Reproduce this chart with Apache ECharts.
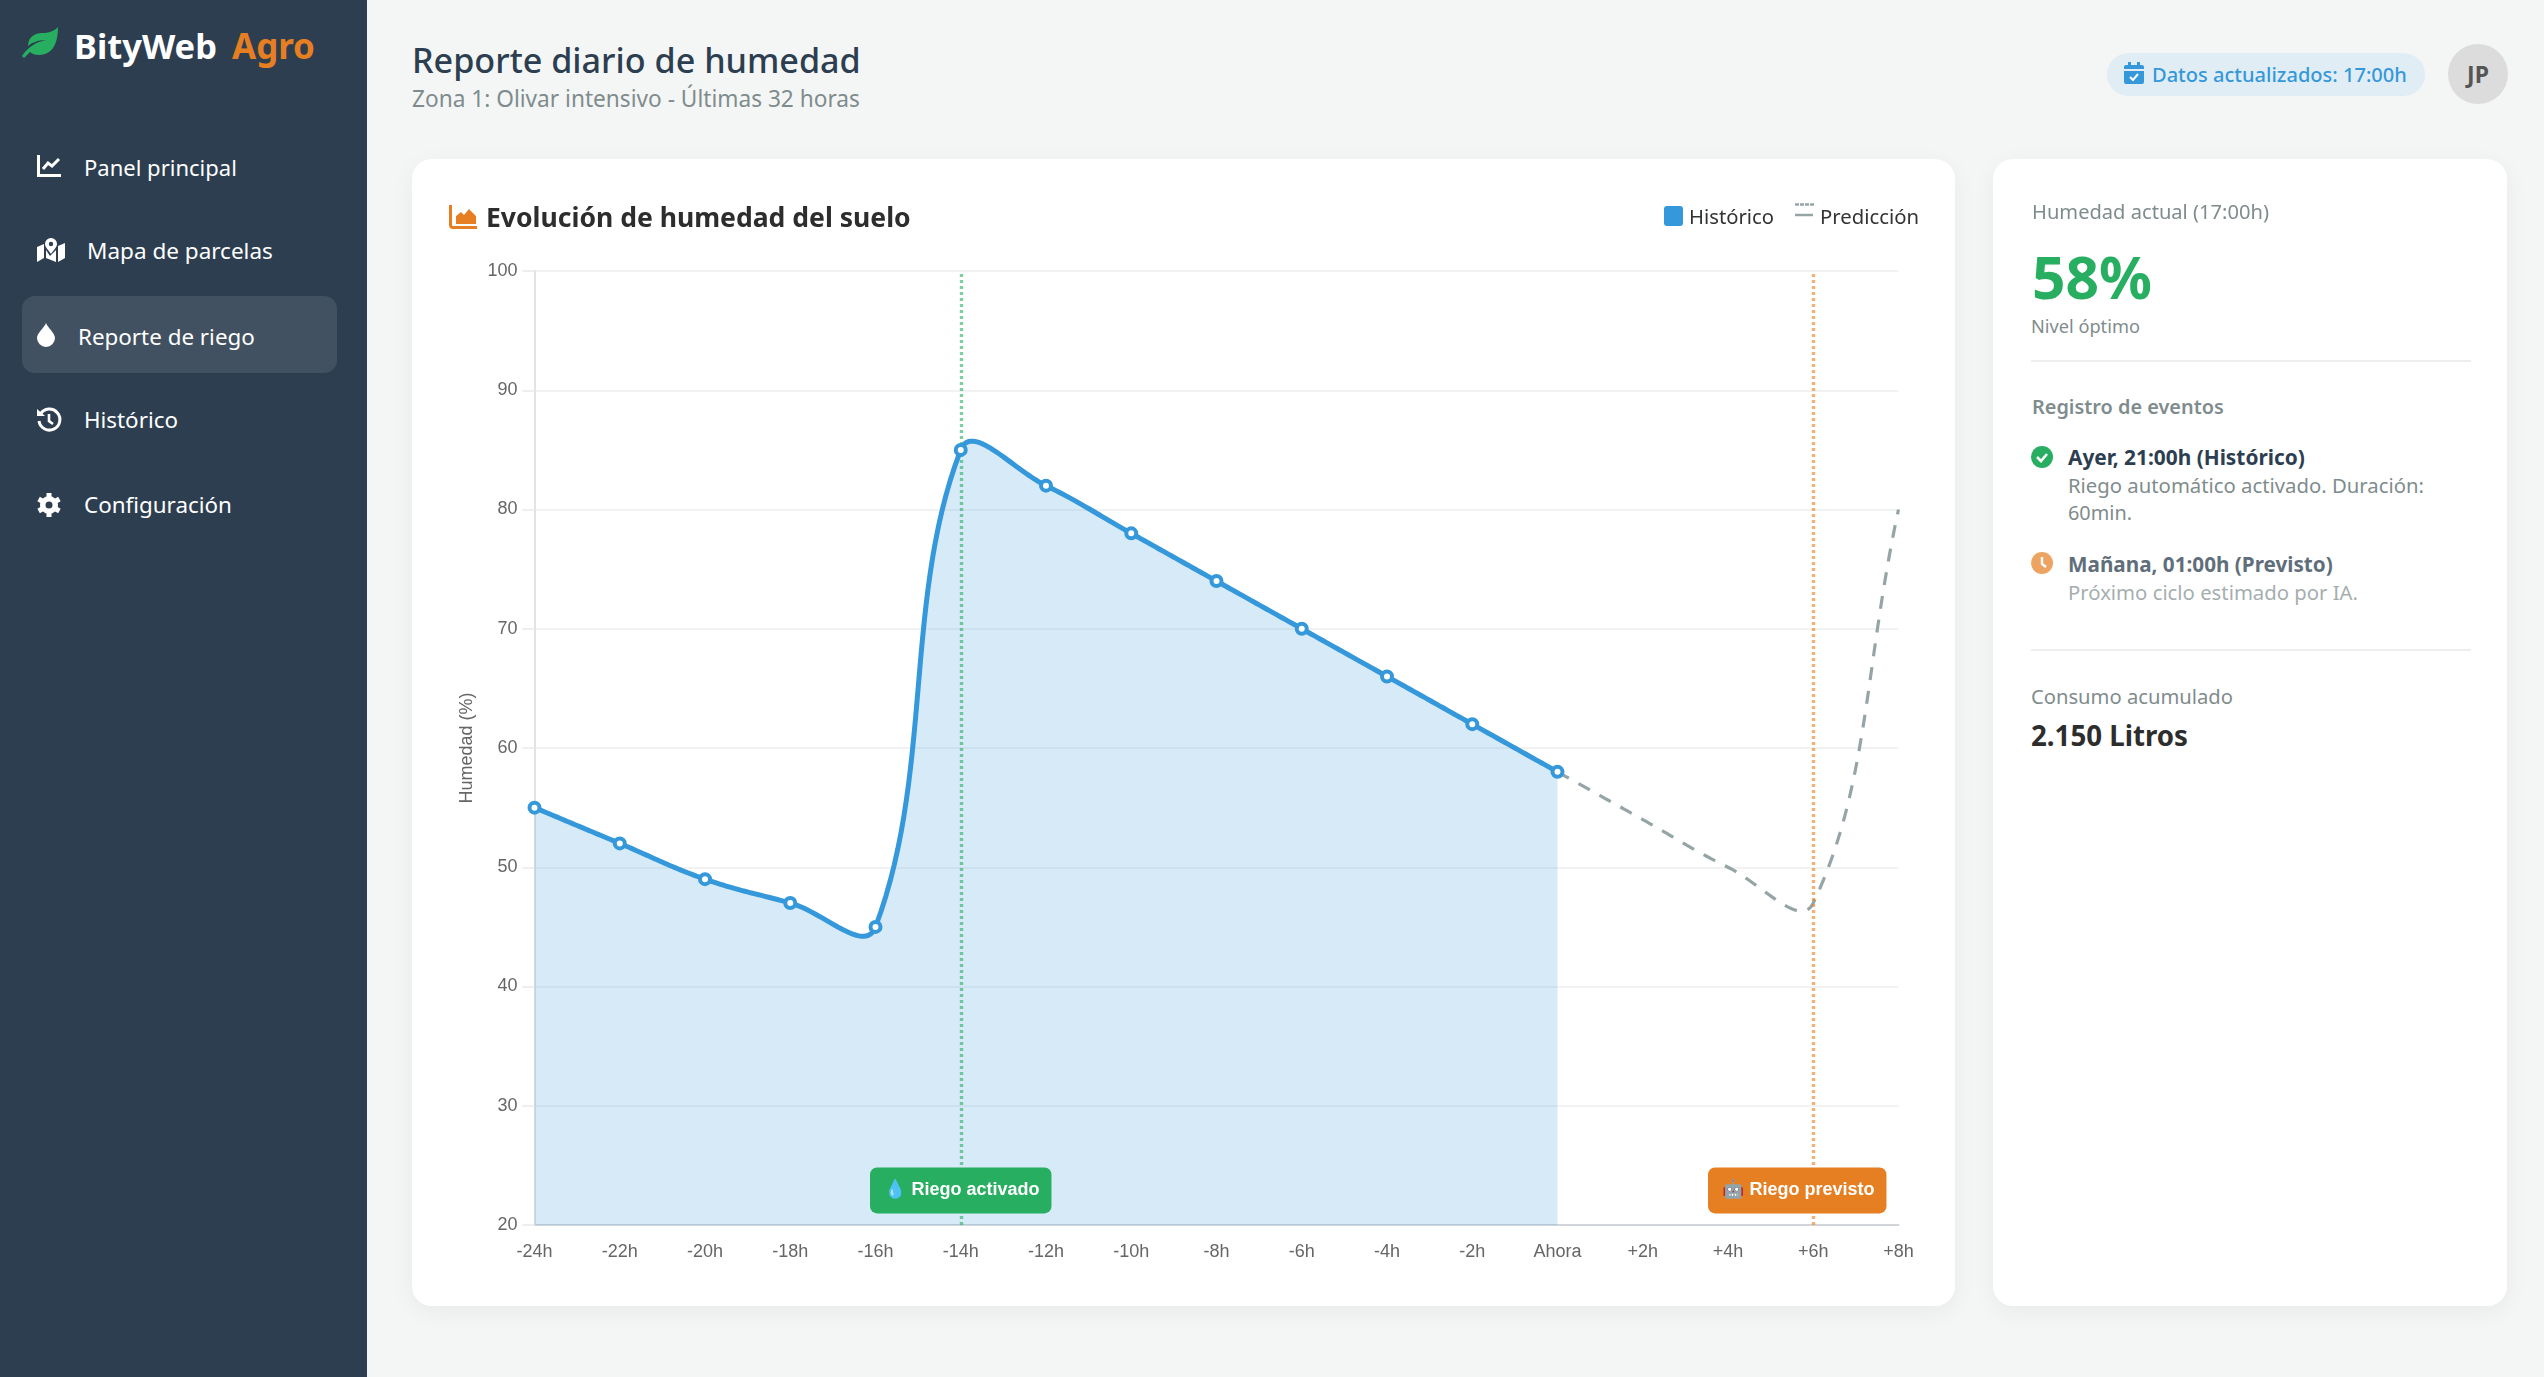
<!DOCTYPE html>
<html lang="es">
<head>
<meta charset="utf-8">
<title>BityWeb Agro - Reporte de riego</title>
<script src="https://cdn.jsdelivr.net/npm/echarts@6/dist/echarts.min.js"></script>
<style>
  html, body { margin: 0; padding: 0; width: 2544px; height: 1377px; overflow: hidden; background: #f4f6f6; font-family: "Noto Sans", sans-serif; }
  .sidebar { position: absolute; left: 0; top: 0; width: 367px; height: 1377px; background: #2c3e50; }
  .active-item { position: absolute; left: 22px; top: 296px; width: 315px; height: 77px; border-radius: 13px; background: rgba(255,255,255,0.1); }
  .card { position: absolute; top: 159px; height: 1147px; background: #fff; border-radius: 20px; box-shadow: 0 6px 24px rgba(0,0,0,0.05); }
  .t { position: absolute; white-space: nowrap; line-height: 1; transform: translateY(-50%); }
  .nav { color: #fff; }
  .hr { position: absolute; left: 2031px; width: 440px; height: 2px; background: #eeeeee; }
  .pill { position: absolute; left: 2107px; top: 53px; width: 318px; height: 43px; border-radius: 22px; background: #e1edf4; }
  .avatar { position: absolute; left: 2448px; top: 44px; width: 60px; height: 60px; border-radius: 50%; background: #dcdcdc; }
  svg { position: absolute; overflow: visible; }
  #chart { position: absolute; left: 412px; top: 159px; width: 1543px; height: 1147px; }
</style>
</head>
<body>
<div class="sidebar"></div>
<div class="active-item"></div>
<div class="card" style="left:412px;width:1543px"></div>
<div class="card" style="left:1993px;width:514px"></div>
<div class="pill"></div>
<div class="avatar"></div>
<div id="chart"></div>

<!-- logo -->
<svg style="left:22px;top:27px" width="36" height="31" viewBox="0 0 36 31"><path d="M36 0C36 14 32 28 17 28C13 28 10 27 8 25C6 27 4 29 2 31L0 29C6 20 14 15 24 13C16 13 9 16 6 19C6 11 12 6 20 6C27 6 32 4 36 0Z" fill="#27ae60"/></svg>
<div class="t" data-w="143" style="left:74px;top:46px;font-size:36px;font-weight:700;color:#fff">BityWeb</div>
<div class="t" data-w="83" style="left:232px;top:46px;font-size:36px;font-weight:700;color:#e67e22">Agro</div>

<!-- menu -->
<svg style="left:37px;top:155px" width="25" height="22" viewBox="0 0 25 22"><path d="M1.500 0V20.500H24" fill="none" stroke="#fff" stroke-width="3"/><path d="M6 14L11 8L15 11L22 4" fill="none" stroke="#fff" stroke-width="3"/></svg>
<div class="t nav" data-w="153" style="left:84px;top:167px;font-size:24px">Panel principal</div>
<svg style="left:37px;top:238px" width="28" height="24" viewBox="0 0 28 24"><path d="M0 9L7 6V20L0 24ZM21 8L28 5V20L21 24ZM9 12L13 18L19 12V24L9 20Z" fill="#fff"/><path d="M14 0A6 6 0 0 1 20 6C20 9 16 13 14 16C12 13 8 9 8 6A6 6 0 0 1 14 0Z" fill="#fff"/><circle cx="14" cy="6" r="2.200" fill="#2c3e50"/></svg>
<div class="t nav" data-w="186" style="left:87px;top:251px;font-size:24px">Mapa de parcelas</div>
<svg style="left:37px;top:323px" width="18" height="24" viewBox="0 0 18 24"><path d="M9 0C11 5 18 10 18 15A9 9 0 0 1 0 15C0 10 7 5 9 0Z" fill="#fff"/></svg>
<div class="t nav" data-w="177" style="left:78px;top:337px;font-size:24px">Reporte de riego</div>
<svg style="left:37px;top:408px" width="24" height="24" viewBox="0 0 24 24"><path d="M3.500 6A10.500 10.500 0 1 1 2 13" fill="none" stroke="#fff" stroke-width="3"/><path d="M0 1L8 8H0Z" fill="#fff"/><path d="M12 6V13L16 16" fill="none" stroke="#fff" stroke-width="2.600"/></svg>
<div class="t nav" data-w="94" style="left:84px;top:420px;font-size:24px">Histórico</div>
<svg style="left:37px;top:493px" width="24" height="24" viewBox="0 0 24 24"><circle cx="12" cy="12" r="6.500" fill="none" stroke="#fff" stroke-width="5"/><path d="M12 12L12 0M12 12L12 24M12 12L1.600 6M12 12L22.400 18M12 12L1.600 18M12 12L22.400 6" stroke="#fff" stroke-width="5"/><circle cx="12" cy="12" r="3.500" fill="#2c3e50"/></svg>
<div class="t nav" data-w="148" style="left:84px;top:505px;font-size:24px">Configuración</div>

<!-- header -->
<div class="t" data-w="449" style="left:412px;top:60px;font-size:36px;font-weight:500;color:#2c3e50">Reporte diario de humedad</div>
<div class="t" data-w="448" style="left:412px;top:99px;font-size:23px;color:#7f8c8d">Zona 1: Olivar intensivo - Últimas 32 horas</div>
<svg style="left:2124px;top:62px" width="20" height="22" viewBox="0 0 20 22"><path d="M2 3H18A2 2 0 0 1 20 5V7H0V5A2 2 0 0 1 2 3ZM4 0H7V3H4ZM13 0H16V3H13ZM0 9H20V20A2 2 0 0 1 18 22H2A2 2 0 0 1 0 20Z" fill="#3498db"/><path d="M6 15L9 18L14 12" fill="none" stroke="#fff" stroke-width="2"/></svg>
<div class="t" data-w="255" style="left:2152px;top:75px;font-size:22px;font-weight:500;color:#3498db">Datos actualizados: 17:00h</div>
<div class="t" style="left:2478px;top:74px;font-size:23px;font-weight:700;color:#555;transform:translate(-50%,-50%)">JP</div>

<!-- chart card header -->
<svg style="left:449px;top:205px" width="28" height="24" viewBox="0 0 28 24"><path d="M1.500 0V20C1.500 21.500 2.500 22.500 4 22.500H28" fill="none" stroke="#e67e22" stroke-width="3"/><path d="M7 19V11L12 7L15 10L20 4L27 11V19Z" fill="#e67e22"/></svg>
<div class="t" data-w="425" style="left:486px;top:217px;font-size:28px;font-weight:700;color:#2d2d2d">Evolución de humedad del suelo</div>
<div style="position:absolute;left:1664px;top:206px;width:19px;height:20px;border-radius:3px;background:#3498db"></div>
<div class="t" data-w="85" style="left:1689px;top:216px;font-size:21px;color:#333">Histórico</div>
<svg style="left:1795px;top:202px" width="20" height="16" viewBox="0 0 20 16"><path d="M0 2.500H20" stroke="#95a5a6" stroke-width="2.500" stroke-dasharray="4 1"/><path d="M0 13H18" stroke="#95a5a6" stroke-width="2.500"/></svg>
<div class="t" data-w="99" style="left:1820px;top:216px;font-size:21px;color:#333">Predicción</div>

<!-- side panel -->
<div class="t" data-w="237" style="left:2032px;top:212px;font-size:21px;color:#7f8c8d">Humedad actual (17:00h)</div>
<div class="t" data-w="120" style="left:2032px;top:276px;font-size:60px;font-weight:700;color:#27ae60">58%</div>
<div class="t" data-w="109" style="left:2031px;top:326px;font-size:19px;color:#7f8c8d">Nivel óptimo</div>
<div class="hr" style="top:360px"></div>
<div class="t" data-w="192" style="left:2032px;top:407px;font-size:21px;font-weight:600;color:#7f8c8d">Registro de eventos</div>
<svg style="left:2031px;top:446px" width="22" height="22" viewBox="0 0 22 22"><circle cx="11" cy="11" r="11" fill="#27ae60"/><path d="M6 11L10 15L16 8" fill="none" stroke="#fff" stroke-width="2.600"/></svg>
<div class="t" data-w="237" style="left:2068px;top:457px;font-size:21px;font-weight:700;color:#2c3e50">Ayer, 21:00h (Histórico)</div>
<div class="t" data-w="356" style="left:2068px;top:485px;font-size:21px;color:#7f8c8d">Riego automático activado. Duración:</div>
<div class="t" data-w="64" style="left:2068px;top:513px;font-size:21px;color:#7f8c8d">60min.</div>
<svg style="left:2031px;top:552px;opacity:0.7" width="22" height="22" viewBox="0 0 22 22"><circle cx="11" cy="11" r="11" fill="#e67e22"/><path d="M11 5V12L15 15" fill="none" stroke="#fff" stroke-width="2.400"/></svg>
<div class="t" data-w="265" style="left:2068px;top:564px;font-size:21px;font-weight:700;color:#2c3e50;opacity:0.75">Mañana, 01:00h (Previsto)</div>
<div class="t" data-w="290" style="left:2068px;top:592px;font-size:21px;color:#7f8c8d;opacity:0.7">Próximo ciclo estimado por IA.</div>
<div class="hr" style="top:649px"></div>
<div class="t" data-w="202" style="left:2031px;top:696px;font-size:21px;color:#7f8c8d">Consumo acumulado</div>
<div class="t" data-w="157" style="left:2031px;top:736px;font-size:29px;font-weight:700;color:#2d2d2d">2.150 Litros</div>

<script>
'use strict';

var categories = ['-24h', '-22h', '-20h', '-18h', '-16h', '-14h', '-12h', '-10h', '-8h', '-6h', '-4h', '-2h', 'Ahora', '+2h', '+4h', '+6h', '+8h'];
var historico = [55, 52, 49, 47, 45, 85, 82, 78, 74, 70, 66, 62, 58];
var prediccion = [null, null, null, null, null, null, null, null, null, null, null, null, 58, 54, 50, 47, 80];
var yTicks = { min: 20, max: 100, step: 10 };
var riegoActivado = { hora: '-14h', texto: '💧 Riego activado' };
var riegoPrevisto = { hora: '+6h', texto: '🤖 Riego previsto' };
var badgeNivel = 22.9;

// ajustar el ancho de los textos al de la maqueta
var textos = document.querySelectorAll('[data-w]');
for (var i = 0; i < textos.length; i++) {
  var el = textos[i];
  var size = parseFloat(el.style.fontSize);
  el.style.fontSize = (size * Number(el.getAttribute('data-w')) / el.getBoundingClientRect().width) + 'px';
}

// curva con tension 0.4, con los puntos de control sin limitar a los vecinos
function curvePoints(pts, tension) {
  var out = [];
  var cps = pts.map(function (p, k) {
    var prev = pts[k - 1] || p;
    var next = pts[k + 1] || p;
    var d01 = Math.hypot(p[0] - prev[0], p[1] - prev[1]);
    var d12 = Math.hypot(next[0] - p[0], next[1] - p[1]);
    var total = (d01 + d12) || 1;
    var fa = tension * d01 / total;
    var fb = tension * d12 / total;
    return {
      before: [p[0] - fa * (next[0] - prev[0]), p[1] - fa * (next[1] - prev[1])],
      after: [p[0] + fb * (next[0] - prev[0]), p[1] + fb * (next[1] - prev[1])]
    };
  });
  for (var s = 0; s < pts.length - 1; s++) {
    var a = pts[s], b = pts[s + 1], c1 = cps[s].after, c2 = cps[s + 1].before;
    for (var n = 0; n < 30; n++) {
      var u = n / 30, w = 1 - u;
      out.push([
        w * w * w * a[0] + 3 * w * w * u * c1[0] + 3 * w * u * u * c2[0] + u * u * u * b[0],
        w * w * w * a[1] + 3 * w * w * u * c1[1] + 3 * w * u * u * c2[1] + u * u * u * b[1]
      ]);
    }
  }
  out.push(pts[pts.length - 1]);
  return out;
}

function toPairs(values) {
  var pairs = [];
  values.forEach(function (v, k) {
    if (v !== null) {
      pairs.push([k, v]);
    }
  });
  return pairs;
}

function renderHistorico(params, api) {
  if (params.dataIndex !== 0) {
    return null;
  }
  var pairs = toPairs(historico);
  var line = curvePoints(pairs.map(function (p) { return api.coord(p); }), 0.4);
  var baseLeft = api.coord([pairs[0][0], yTicks.min]);
  var baseRight = api.coord([pairs[pairs.length - 1][0], yTicks.min]);
  return {
    type: 'group',
    children: [{
      type: 'polygon',
      shape: { points: [baseLeft].concat(line, [baseRight]) },
      style: { fill: 'rgba(52,152,219,0.2)' }
    }, {
      type: 'polyline',
      shape: { points: line },
      style: { fill: null, stroke: '#3498db', lineWidth: 5, lineJoin: 'round' }
    }]
  };
}

function renderPrediccion(params, api) {
  if (params.dataIndex !== 0) {
    return null;
  }
  var pts = toPairs(prediccion).map(function (p) { return api.coord(p); });
  return {
    type: 'polyline',
    shape: { points: curvePoints(pts, 0.4) },
    style: { fill: null, stroke: '#95a5a6', lineWidth: 3.2, lineDash: [13, 11] }
  };
}

function eventLine(hora, color) {
  return {
    xAxis: categories.indexOf(hora),
    lineStyle: { color: color, type: [3, 3], width: 3.4 }
  };
}

function badge(evento, color, offset) {
  return {
    coord: [categories.indexOf(evento.hora), badgeNivel],
    symbol: 'rect',
    symbolSize: 1,
    itemStyle: { color: 'rgba(0,0,0,0)' },
    label: {
      show: true,
      position: 'inside',
      offset: offset,
      formatter: evento.texto,
      color: '#fff',
      fontFamily: '"Liberation Sans", "Noto Color Emoji", sans-serif',
      fontWeight: 'bold',
      fontSize: 18,
      lineHeight: 22,
      backgroundColor: color,
      borderRadius: 7,
      padding: [12, 12, 12, 14]
    }
  };
}

var chart = echarts.init(document.getElementById('chart'));

chart.setOption({
  animation: false,
  textStyle: { fontFamily: '"Liberation Sans", sans-serif' },
  grid: { left: 122.5, right: 56.5, top: 112, bottom: 81 },
  xAxis: {
    type: 'category',
    data: categories,
    boundaryGap: false,
    axisLine: { lineStyle: { color: '#d2d6da', width: 2 } },
    axisTick: { show: false },
    splitLine: { show: false },
    axisLabel: { interval: 0, color: '#666', fontSize: 18, margin: 18 }
  },
  yAxis: {
    type: 'value',
    min: yTicks.min,
    max: yTicks.max,
    interval: yTicks.step,
    name: 'Humedad (%)',
    nameLocation: 'middle',
    nameGap: 58,
    nameTextStyle: { color: '#666', fontSize: 18 },
    axisLine: { show: true, lineStyle: { color: '#e2e2e2', width: 2 } },
    axisTick: { show: true, length: 12, lineStyle: { color: '#eeeeee', width: 2 } },
    splitLine: { lineStyle: { color: '#eeeeee', width: 1.6 } },
    axisLabel: { color: '#666', fontSize: 18, margin: 17 }
  },
  series: [{
    name: 'Histórico curva',
    type: 'custom',
    renderItem: renderHistorico,
    data: toPairs(historico),
    z: 3,
    silent: true
  }, {
    name: 'Predicción',
    type: 'custom',
    renderItem: renderPrediccion,
    data: toPairs(prediccion),
    z: 3,
    silent: true
  }, {
    name: 'Histórico',
    type: 'line',
    data: historico,
    z: 5,
    symbol: 'circle',
    symbolSize: 10,
    showSymbol: true,
    lineStyle: { width: 0, opacity: 0 },
    itemStyle: { color: '#fff', borderColor: '#3498db', borderWidth: 4 },
    markLine: {
      silent: true,
      symbol: 'none',
      animation: false,
      label: { show: false },
      data: [eventLine(riegoActivado.hora, 'rgba(39,174,96,0.6)'), eventLine(riegoPrevisto.hora, 'rgba(230,126,34,0.6)')]
    },
    markPoint: {
      silent: true,
      animation: false,
      data: [badge(riegoActivado, '#27ae60', [0, 0]), badge(riegoPrevisto, '#e67e22', [-16, 0])]
    }
  }]
});
</script>
</body>
</html>
